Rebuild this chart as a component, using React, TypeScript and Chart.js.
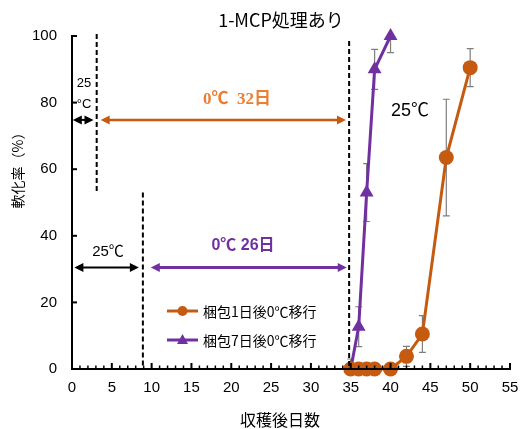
import React, { useEffect, useRef } from "react";
import { Chart, registerables } from "chart.js";

Chart.register(...registerables);

const TITLE = "1-MCP処理あり";
const X_TITLE = "収穫後日数";
const Y_TITLE = "軟化率（%）";
const LEGEND_1 = "梱包1日後0℃移行";
const LEGEND_7 = "梱包7日後0℃移行";

const DAYS_1 = [35, 36, 37, 38, 40, 42, 44, 47, 50];
const SOFT_1 = [0, 0, 0, 0, 0, 3.8, 10.5, 63.5, 90.5];
const ERR_1 = [0, 0, 0, 0, 0, 3, 5.5, 17.5, 5.7];

const DAYS_7 = [35, 36, 37, 38, 40];
const SOFT_7 = [0, 12.7, 53, 90, 100];
const ERR_7 = [3, 6, 8.7, 6, 5];

const X_MIN = 0;
const X_MAX = 55;
const Y_MIN = 0;
const Y_MAX = 100;

const ORANGE = "#C55A11";
const ORANGE_TEXT = "#ED7D31";
const PURPLE = "#7030A0";

// annotation definitions in data units
const DASH_LINES = [
  { x: 3.1, y0: 53, y1: 100.6 },
  { x: 8.9, y0: 0, y1: 53 },
  { x: 34.8, y0: 0, y1: 98.5 },
];
const ARROWS = [
  { x0: 0.1, x1: 2.7, y: 74.8, color: "#000000", w: 2 },
  { x0: 3.6, x1: 34.4, y: 74.8, color: ORANGE, w: 2.5 },
  { x0: 0.3, x1: 8.4, y: 30.5, color: "#000000", w: 2 },
  { x0: 9.9, x1: 34.5, y: 30.5, color: PURPLE, w: 3 },
];

const SANS = '"Liberation Sans", "Noto Sans CJK JP", sans-serif';
const CJK = '"Noto Sans CJK JP", "Liberation Sans", sans-serif';

function drawArrow(ctx: CanvasRenderingContext2D, xa: number, xb: number, y: number, color: string, w: number) {
  const hl = 9;
  const hw = 4.5;
  ctx.save();
  ctx.strokeStyle = color;
  ctx.fillStyle = color;
  ctx.lineWidth = w;
  ctx.beginPath();
  ctx.moveTo(xa + hl - 1, y);
  ctx.lineTo(xb - hl + 1, y);
  ctx.stroke();
  ctx.beginPath();
  ctx.moveTo(xa, y);
  ctx.lineTo(xa + hl, y - hw);
  ctx.lineTo(xa + hl, y + hw);
  ctx.closePath();
  ctx.fill();
  ctx.beginPath();
  ctx.moveTo(xb, y);
  ctx.lineTo(xb - hl, y - hw);
  ctx.lineTo(xb - hl, y + hw);
  ctx.closePath();
  ctx.fill();
  ctx.restore();
}

const customPlugin = {
  id: "customDraw",
  beforeDatasetsDraw(chart: any) {
    const ctx: CanvasRenderingContext2D = chart.ctx;
    const xs = chart.scales.x;
    const ys = chart.scales.y;
    const area = chart.chartArea;
    ctx.save();
    ctx.beginPath();
    ctx.rect(area.left, area.top, area.right - area.left, area.bottom - area.top);
    ctx.clip();
    ctx.strokeStyle = "#7F7F7F";
    ctx.lineWidth = 1.2;
    const sets = [
      { d: DAYS_1, v: SOFT_1, e: ERR_1 },
      { d: DAYS_7, v: SOFT_7, e: ERR_7 },
    ];
    sets.forEach((s) => {
      s.d.forEach((day, i) => {
        const err = s.e[i];
        if (!err) return;
        const px = xs.getPixelForValue(day);
        const yt = ys.getPixelForValue(s.v[i] + err);
        const yb = ys.getPixelForValue(s.v[i] - err);
        ctx.beginPath();
        ctx.moveTo(px, yt);
        ctx.lineTo(px, yb);
        ctx.moveTo(px - 3.5, yt);
        ctx.lineTo(px + 3.5, yt);
        ctx.moveTo(px - 3.5, yb);
        ctx.lineTo(px + 3.5, yb);
        ctx.stroke();
      });
    });
    ctx.restore();
  },
  afterDraw(chart: any) {
    const ctx: CanvasRenderingContext2D = chart.ctx;
    const xs = chart.scales.x;
    const ys = chart.scales.y;
    const left = xs.getPixelForValue(X_MIN);
    const right = xs.getPixelForValue(X_MAX);
    const bottom = ys.getPixelForValue(Y_MIN);
    const top = ys.getPixelForValue(Y_MAX);
    ctx.save();
    // axes
    ctx.strokeStyle = "#000";
    ctx.lineWidth = 2;
    ctx.beginPath();
    ctx.moveTo(left, top - 1);
    ctx.lineTo(left, bottom + 1);
    ctx.moveTo(left - 1, bottom);
    ctx.lineTo(right + 1, bottom);
    ctx.stroke();
    // y ticks (inward)
    for (let v = Y_MIN; v <= Y_MAX; v += 20) {
      const py = ys.getPixelForValue(v);
      ctx.beginPath();
      ctx.moveTo(left, py);
      ctx.lineTo(left + 5, py);
      ctx.stroke();
    }
    // x ticks (inward)
    for (let d = X_MIN; d <= X_MAX; d += 1) {
      const px = xs.getPixelForValue(d);
      const major = d % 5 === 0;
      ctx.lineWidth = major ? 2 : 1.5;
      ctx.beginPath();
      ctx.moveTo(px, bottom);
      ctx.lineTo(px, bottom - (major ? 6 : 3.5));
      ctx.stroke();
    }
    // dashed lines
    ctx.lineWidth = 2;
    ctx.setLineDash([5, 3]);
    DASH_LINES.forEach((l) => {
      const px = xs.getPixelForValue(l.x);
      ctx.beginPath();
      ctx.moveTo(px, ys.getPixelForValue(l.y1));
      ctx.lineTo(px, ys.getPixelForValue(l.y0));
      ctx.stroke();
    });
    ctx.setLineDash([]);
    // arrows
    ARROWS.forEach((a) => {
      drawArrow(ctx, xs.getPixelForValue(a.x0), xs.getPixelForValue(a.x1), ys.getPixelForValue(a.y), a.color, a.w);
    });
    // texts
    ctx.textAlign = "center";
    ctx.textBaseline = "middle";
    ctx.fillStyle = "#000";
    ctx.font = `18px ${CJK}`;
    ctx.fillText(TITLE, 281, 20);
    ctx.font = `16px ${CJK}`;
    ctx.fillText(X_TITLE, 280, 420);
    ctx.save();
    ctx.translate(18, 167);
    ctx.rotate(-Math.PI / 2);
    ctx.font = `14px ${CJK}`;
    ctx.fillText(Y_TITLE, 0, 0);
    ctx.restore();

    ctx.font = `13px ${SANS}`;
    ctx.fillText("25", 84, 83);
    ctx.fillText("°C", 84, 104);
    ctx.font = `18px ${SANS}`;
    ctx.fillText("25℃", 410, 111);
    ctx.font = `15px ${SANS}`;
    ctx.fillText("25℃", 108, 252);

    ctx.fillStyle = ORANGE_TEXT;
    ctx.font = `bold 17px "Liberation Serif", "Noto Sans CJK JP", serif`;
    ctx.fillText("0℃  32日", 237, 100);
    ctx.fillStyle = PURPLE;
    ctx.font = `bold 16px ${SANS}`;
    ctx.fillText("0℃ 26日", 243, 246);

    // legend
    const legend = [
      { label: LEGEND_1, color: ORANGE, y: 311, style: "circle" },
      { label: LEGEND_7, color: PURPLE, y: 340, style: "triangle" },
    ];
    legend.forEach((it) => {
      ctx.strokeStyle = it.color;
      ctx.fillStyle = it.color;
      ctx.lineWidth = 3;
      ctx.beginPath();
      ctx.moveTo(167, it.y);
      ctx.lineTo(198, it.y);
      ctx.stroke();
      ctx.beginPath();
      if (it.style === "circle") {
        ctx.arc(182.5, it.y, 5, 0, Math.PI * 2);
      } else {
        ctx.moveTo(182.5, it.y - 6);
        ctx.lineTo(188, it.y + 4);
        ctx.lineTo(177, it.y + 4);
        ctx.closePath();
      }
      ctx.fill();
      ctx.fillStyle = "#000";
      ctx.textAlign = "left";
      ctx.font = `14px ${CJK}`;
      ctx.fillText(it.label, 203, it.y + 1);
    });
    ctx.restore();
  },
};

export default function App() {
  const ref = useRef<HTMLCanvasElement | null>(null);
  useEffect(() => {
    if (!ref.current) return;
    const chart = new Chart(ref.current, {
      type: "line",
      data: {
        datasets: [
          {
            label: LEGEND_1,
            data: DAYS_1.map((d, i) => ({ x: d, y: SOFT_1[i] })),
            borderColor: ORANGE,
            backgroundColor: ORANGE,
            borderWidth: 3,
            pointStyle: "circle",
            pointRadius: 7.5,
            pointBorderWidth: 0,
            tension: 0,
          },
          {
            label: LEGEND_7,
            data: DAYS_7.map((d, i) => ({ x: d, y: SOFT_7[i] })),
            borderColor: PURPLE,
            backgroundColor: PURPLE,
            borderWidth: 3,
            pointStyle: "triangle",
            pointRadius: 8,
            pointBorderWidth: 0,
            tension: 0,
          },
        ],
      },
      options: {
        responsive: false,
        animation: false,
        devicePixelRatio: 1,
        clip: false,
        layout: { padding: { left: 0, right: 10, top: 36, bottom: 0 } },
        plugins: {
          legend: { display: false },
          title: { display: false },
          tooltip: { enabled: false },
        },
        scales: {
          x: {
            type: "linear",
            min: X_MIN,
            max: X_MAX,
            grid: { display: false, drawTicks: false },
            border: { display: false },
            ticks: {
              stepSize: 5,
              padding: 10,
              color: "#000",
              font: { family: SANS, size: 15 },
              maxRotation: 0,
            },
            afterFit: (s: any) => {
              s.height = 60;
              s.paddingRight = 0;
              s.paddingLeft = 0;
            },
          },
          y: {
            type: "linear",
            min: Y_MIN,
            max: Y_MAX,
            grid: { display: false, drawTicks: false },
            border: { display: false },
            ticks: {
              stepSize: 20,
              padding: 15,
              color: "#000",
              font: { family: SANS, size: 15 },
            },
            afterFit: (s: any) => {
              s.width = 72;
              s.paddingTop = 0;
              s.paddingBottom = 0;
            },
          },
        },
      },
      plugins: [customPlugin],
    });
    return () => chart.destroy();
  }, []);
  return (
    <div style={{ position: "absolute", left: 0, top: 0, width: 520, height: 429, background: "#fff" }}>
      <canvas ref={ref} width={520} height={429} />
    </div>
  );
}
